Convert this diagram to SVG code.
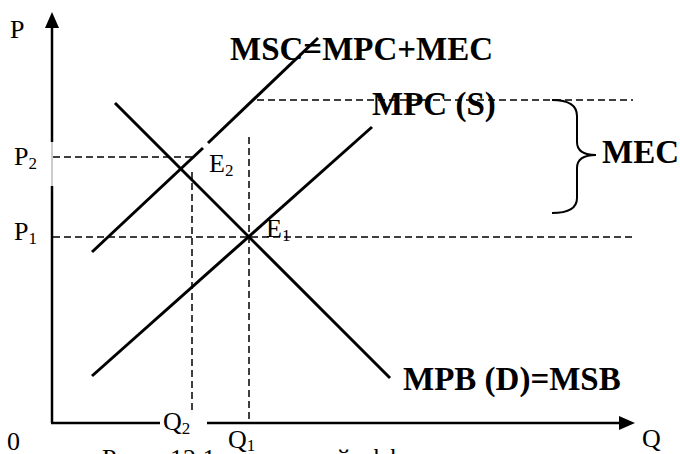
<svg xmlns="http://www.w3.org/2000/svg" width="680" height="454" viewBox="0 0 680 454">
<defs>
<style>
.ax{stroke:#000;stroke-width:2.5;fill:none}
.cv{stroke:#000;stroke-width:3;fill:none}
.ds{stroke:#000;stroke-width:1.5;stroke-dasharray:7 4;fill:none}
.t{font-family:"Liberation Serif","Times New Roman",serif;font-size:26px;fill:#000}
.b{font-family:"Liberation Serif","Times New Roman",serif;font-size:33px;font-weight:bold;fill:#000}
.s{font-size:17px}
</style>
</defs>
<rect width="680" height="454" fill="#fff"/>
<g id="caption">
<text class="t" y="467"><tspan x="102">Рис.</tspan><tspan x="170">12.1.</tspan><tspan x="246">Внешний эффект</tspan></text>
<rect x="224" y="428" width="50" height="26" fill="#fff"/>
</g>
<g id="axes">
<line class="ax" x1="52" y1="26" x2="52" y2="142"/>
<line x1="52" y1="142" x2="52" y2="186" stroke="#999" stroke-width="1"/>
<line class="ax" x1="52" y1="186" x2="52" y2="423"/>
<polygon points="52,12 45,28 59,28" fill="#000"/>
<line class="ax" x1="51" y1="423" x2="160" y2="423"/>
<line class="ax" x1="207" y1="423" x2="621" y2="423"/>
<polygon points="635,423 619,416 619,430" fill="#000"/>
</g>
<g id="labels-plain">
<text class="t" x="10" y="38">P</text>
<text class="t" x="14" y="165">P<tspan class="s" dy="4">2</tspan></text>
<text class="t" x="14" y="240">P<tspan class="s" dy="4">1</tspan></text>
<text class="t" x="209" y="172">E<tspan class="s" dy="4">2</tspan></text>
<text class="t" x="266" y="237">E<tspan class="s" dy="4">1</tspan></text>
<text class="t" x="163" y="430">Q<tspan class="s" dy="4">2</tspan></text>
<text class="t" x="228" y="448">Q<tspan class="s" dy="3">1</tspan></text>
<text class="t" x="7" y="450">0</text>
<text class="t" x="642" y="447">Q</text>
</g>
<g id="labels-bold">
<text class="b" x="230" y="60">MSC=MPC+MEC</text>
<text class="b" x="372" y="115">MPC (S)</text>
<text class="b" x="602" y="163">MEC</text>
<text class="b" x="403" y="390">MPB (D)=MSB</text>
</g>
<g id="guides">
<line class="ds" x1="53" y1="157" x2="193" y2="157"/>
<line class="ds" x1="53" y1="237" x2="633" y2="237"/>
<line class="ds" x1="257" y1="100" x2="633" y2="100"/>
<line class="ds" x1="192" y1="172" x2="192" y2="410"/>
<line class="ds" x1="249" y1="137" x2="249" y2="422"/>
</g>
<g id="connectors">
<line id="demand" class="cv" x1="115" y1="103" x2="390" y2="378"/>
<line id="supply" class="cv" x1="92" y1="376" x2="372" y2="127"/>
<line id="msc-low" class="cv" x1="92" y1="252" x2="203" y2="148"/>
<line id="msc-high" class="cv" x1="208" y1="143" x2="318" y2="38"/>
<path id="brace" d="M552,100 Q577,100 577,116 L577,142 Q577,155 596,155 Q577,155 577,168 L577,198 Q577,213 552,213" stroke="#000" stroke-width="2" fill="none"/>
</g>
</svg>
